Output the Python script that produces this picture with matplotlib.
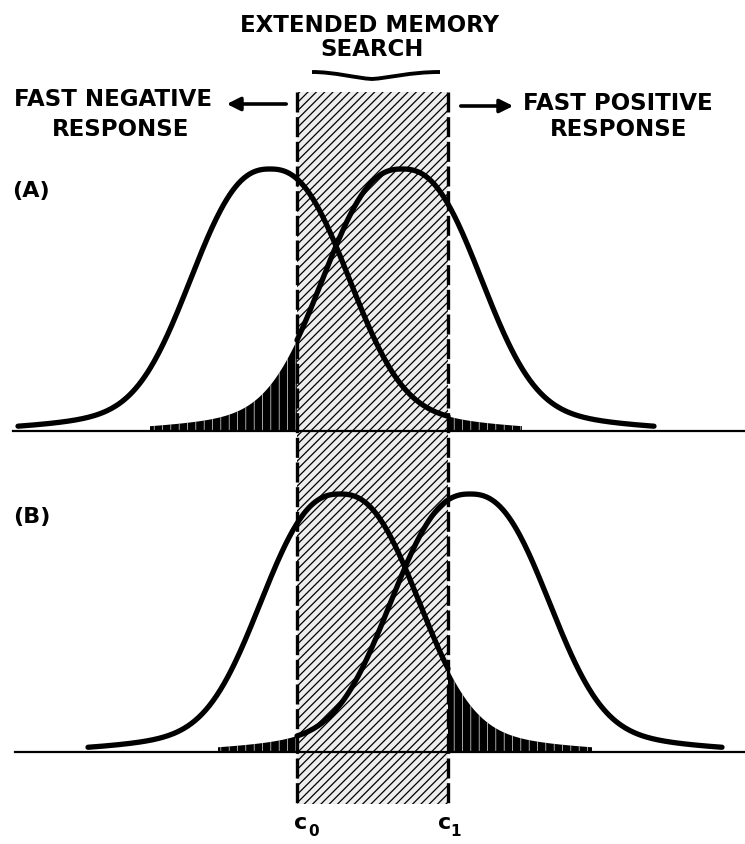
import numpy as np
import matplotlib.pyplot as plt
from matplotlib.path import Path
from matplotlib.patches import PathPatch, Rectangle

plt.rcParams['font.family'] = 'DejaVu Sans'
plt.rcParams['font.weight'] = 'bold'

# criteria on the familiarity axis
c0 = 297
c1 = 448

# two panels: (A) and (B)
panel_labels = ['(A)', '(B)']
baselines = [432, 753]
peak_heights = [262, 258]
neg_centers = [270, 340]   # new-item distribution
pos_centers = [402, 470]   # old-item distribution
half_range = 252

# shape of the bell curves (rounded top, steep sides, long thin tails)
core_scale = 97
core_power = 2.5
tail_weight = 0.12
tail_sigma = 130


def bell(x, mu):
    d = np.abs(x - mu)
    core = np.exp(-(d / core_scale) ** core_power)
    tail = np.exp(-0.5 * (d / tail_sigma) ** 2)
    return (1 - tail_weight) * core + tail_weight * tail


fig = plt.figure(figsize=(7.45, 8.45), dpi=100)
ax = fig.add_axes([0, 0, 1, 1])
ax.set_xlim(0, 745)
ax.set_ylim(845, 0)
ax.axis('off')

# extended memory search band
band_top, band_bottom = 93, 805
with plt.rc_context({'hatch.linewidth': 0.9}):
    ax.add_patch(Rectangle((c0, band_top), c1 - c0, band_bottom - band_top,
                           facecolor='#eeeeee', edgecolor='black', hatch='////',
                           linewidth=0, zorder=1))
for cx in (c0, c1):
    ax.plot([cx, cx], [band_top, band_bottom], color='black', lw=2.4,
            linestyle=(0, (6, 1.4)), zorder=5)

baseline_start = [13, 15]
for i in range(2):
    base = baselines[i]
    h = peak_heights[i]
    mu_n = neg_centers[i]
    mu_p = pos_centers[i]

    ax.plot([baseline_start[i], 745], [base, base], color='black', lw=1.6, zorder=3)

    # negative (left) distribution: line up to c1, dark tail beyond
    x_line = np.linspace(mu_n - half_range, c1, 300)
    ax.plot(x_line, base - h * bell(x_line, mu_n), color='black', lw=3.8,
            solid_capstyle='round', zorder=4)
    x_tail = np.linspace(c1, mu_n + half_range, 200)
    with plt.rc_context({'hatch.linewidth': 0.45}):
        ax.fill_between(x_tail, base, base - h * bell(x_tail, mu_n), facecolor='black',
                        edgecolor='white', hatch='||', linewidth=0, zorder=2)

    # positive (right) distribution: dark tail below c0, line from c0
    x_line = np.linspace(c0, mu_p + half_range, 300)
    ax.plot(x_line, base - h * bell(x_line, mu_p), color='black', lw=3.8,
            solid_capstyle='round', zorder=4)
    x_tail = np.linspace(mu_p - half_range, c0, 200)
    with plt.rc_context({'hatch.linewidth': 0.45}):
        ax.fill_between(x_tail, base, base - h * bell(x_tail, mu_p), facecolor='black',
                        edgecolor='white', hatch='||', linewidth=0, zorder=2)

ax.text(12, 191, panel_labels[0], fontsize=16, ha='left', va='center')
ax.text(13, 517, panel_labels[1], fontsize=16, ha='left', va='center')

# header texts
fs = 16.5
ax.text(370, 25, 'EXTENDED MEMORY', fontsize=fs, ha='center', va='center')
ax.text(372, 50, 'SEARCH', fontsize=fs, ha='center', va='center')
ax.text(14, 99, 'FAST NEGATIVE', fontsize=fs, ha='left', va='center')
ax.text(121, 130, 'RESPONSE', fontsize=fs, ha='center', va='center')
ax.text(523, 104, 'FAST POSITIVE', fontsize=fs, ha='left', va='center')
ax.text(619, 130, 'RESPONSE', fontsize=fs, ha='center', va='center')

ax.annotate('', xy=(224, 105), xytext=(289, 105),
            arrowprops=dict(arrowstyle='-|>', lw=2.6, color='black', mutation_scale=20))
ax.annotate('', xy=(516, 107), xytext=(458, 107),
            arrowprops=dict(arrowstyle='-|>', lw=2.6, color='black', mutation_scale=20))

# brace under "SEARCH"
verts = [(312, 73), (335, 73), (355, 79), (372, 80),
         (389, 79), (410, 73), (440, 73)]
codes = [Path.MOVETO, Path.CURVE4, Path.CURVE4, Path.CURVE4,
         Path.CURVE4, Path.CURVE4, Path.CURVE4]
ax.add_patch(PathPatch(Path(verts, codes), facecolor='none', edgecolor='black', lw=2.8))

# criterion labels
ax.text(301, 823, 'c', fontsize=16, ha='center', va='center')
ax.text(314, 832, '0', fontsize=11, ha='center', va='center')
ax.text(445, 823, 'c', fontsize=16, ha='center', va='center')
ax.text(456, 832, '1', fontsize=11, ha='center', va='center')

fig.savefig('out.png', dpi=100)
